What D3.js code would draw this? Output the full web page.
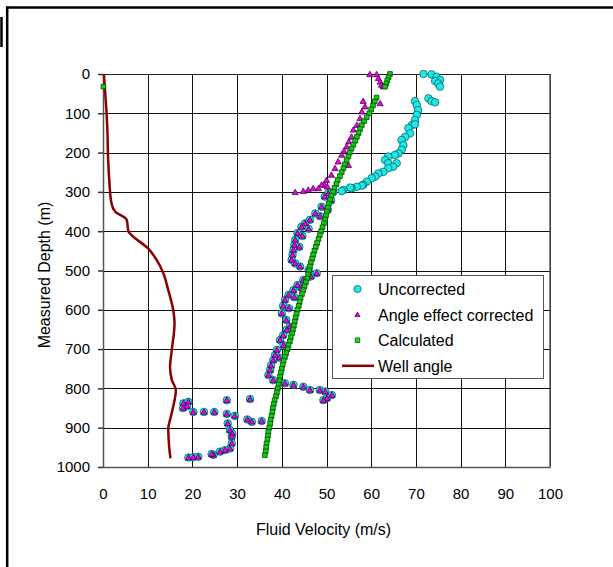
<!DOCTYPE html>
<html>
<head>
<meta charset="utf-8">
<script src="https://cdn.jsdelivr.net/npm/d3@7"></script>
<style>
  body { margin: 0; background: #fff; }
  text { font-family: "Liberation Sans", Arial, sans-serif; fill: #000; }
</style>
</head>
<body>
<script>
// x ticks and y ticks
var velTicks = [0, 10, 20, 30, 40, 50, 60, 70, 80, 90, 100];
var depthTicks = [0, 100, 200, 300, 400, 500, 600, 700, 800, 900, 1000];

var seriesNames = ["Uncorrected", "Angle effect corrected", "Calculated", "Well angle"];

// well angle [deg, depth]
var wellAngle = [[0.2,0],[0.5,50],[0.8,100],[1.0,150],[1.1,200],[1.4,270],[1.9,329],[2.7,350],[5.3,371],
  [5.7,401],[6.4,410],[10.1,444],[12.0,473],[13.5,507],[14.6,550],[15.7,600],[16.0,634],[15.4,702],
  [15.0,745],[15.4,779],[16.3,804],[15.7,847],[15.0,880],[14.6,902],[14.8,948],[15.1,978]];

// uncorrected, upper part only (below ~300 m it sits under the corrected points)
var uncorrectedTop = [[71.7,0],[73.5,1],[74.6,7],[75.4,15],[74.3,18],[75.0,24],[75.4,32],[72.8,62],[73.5,69],
  [74.3,72],[69.8,69],[70.2,79],[70.5,92],[70.2,104],[69.8,117],[69.1,130],[69.8,128],[68.3,138],[68.7,151],
  [67.6,160],[66.8,168],[67.2,181],[66.8,193],[66.1,202],[65.3,206],[63.8,210],[63.1,219],[63.8,227],
  [65.7,227],[64.9,236],[63.8,240],[62.7,249],[61.6,253],[60.9,261],[60.1,265],[59.0,274],[58.2,282],
  [57.9,284],[56.8,287],[55.6,291],[55.3,289],[53.8,295],[53.4,298],[51.5,301]];

var angleCorrected = [[59.7,1],[61.2,1],[61.6,11],[62.0,20],[62.3,28],[62.7,32],
  [58.2,69],[62.0,75],[58.6,83],[57.9,96],[57.5,113],[56.8,130],[56.0,142],[55.6,160],[55.0,172],[54.5,185],
  [53.9,196],[53.4,206],[52.6,223],[54.9,232],[51.9,240],[51.1,257],[50.0,270],[49.5,282],[48.9,282],
  [48.2,291],[47.0,291],[45.9,295],[44.8,298],[43.0,301],[50.2,287],
  [50.4,304],[49.6,312],[51.0,322],[48.9,338],[50.3,345],[47.5,355],[48.6,362],[46.3,371],[45.2,380],
  [44.4,389],[46.0,394],[43.5,405],[44.6,412],[43.0,422],[42.8,435],[43.9,440],[42.6,448],[42.4,460],
  [42.2,473],[43.0,482],[44.1,490],[46.0,498],[47.8,507],[46.5,515],[44.8,524],[43.5,537],[44.4,544],
  [42.6,550],[41.5,562],[42.8,568],[40.7,575],[40.3,590],[41.6,596],[40.0,609],[41.0,626],[41.8,643],
  [41.1,651],[40.3,665],[39.6,677],[40.4,690],[38.9,702],[38.5,715],[39.5,722],[38.1,728],[37.6,742],
  [37.4,753],[37.0,766],[38.1,779],[40.7,787],[42.6,791],[44.8,796],[46.3,804],[48.5,804],[49.7,808],
  [51.2,817],[50.1,825],[49.3,830],
  [18.0,838],[19.1,834],[17.9,850],[18.8,845],[20.2,860],[22.6,860],[24.9,860],[27.7,830],[32.9,827],
  [27.7,865],[29.5,870],[32.3,879],[33.3,885],[35.5,883],[27.9,889],[28.4,906],[28.9,915],[28.8,923],
  [28.8,940],[28.4,953],[27.3,957],[26.2,961],[24.7,969],[24.3,967],[19.1,976],[20.2,975],[21.3,974]];

var uncorrected = uncorrectedTop.concat(angleCorrected.filter(function(d) { return d[1] >= 303; }));

// calculated: top stub, odd point at zero, then main curve every 10 m from 60 m
var calcTop = [[64.2,0],[63.9,8],[63.6,16],[63.4,24],[63.1,32],[0.1,32]];
var calcDepth = d3.range(60, 980, 10);
var calcVel = [61.2,60.8,60.4,60.0,59.6,59.0,58.4,57.9,57.5,57.2,56.8,56.4,56.0,55.6,55.2,54.9,54.5,54.1,
  53.8,53.4,53.0,52.5,52.2,51.8,51.5,51.1,50.8,50.5,50.3,50.1,49.9,49.7,49.4,49.1,48.8,48.5,48.2,47.9,47.6,
  47.3,47.0,46.8,46.5,46.3,46.1,45.9,45.7,45.4,45.1,44.8,44.5,44.2,44.0,43.8,43.5,43.3,43.1,42.9,42.7,42.5,
  42.3,42.0,41.8,41.5,41.3,41.0,40.7,40.4,40.2,40.0,39.8,39.6,39.5,39.3,39.1,38.9,38.7,38.4,38.2,38.0,37.9,
  37.7,37.5,37.4,37.2,37.0,36.9,36.8,36.6,36.5,36.4,36.2];
var calculated = calcTop.concat(calcDepth.map(function(d, i) { return [calcVel[i], d]; }));

var margin = {top: 74, left: 103},
    width = 447,
    height = 393;

var svg = d3.select("body").append("svg")
    .attr("width", 613)
    .attr("height", 567);

// outer frame (runs off the right and bottom edges)
svg.append("line")
    .attr("x1", 6).attr("x2", 613)
    .attr("y1", 7.5).attr("y2", 7.5)
    .attr("stroke", "#000")
    .attr("stroke-width", 2.5);
svg.append("line")
    .attr("x1", 7.2).attr("x2", 7.2)
    .attr("y1", 6.5).attr("y2", 567)
    .attr("stroke", "#000")
    .attr("stroke-width", 2.5);

svg.append("line")
    .attr("x1", 1.5).attr("x2", 1.5)
    .attr("y1", 17).attr("y2", 47)
    .attr("stroke", "#000")
    .attr("stroke-width", 2.5);

var x = d3.scaleLinear().domain([0, 100]).range([0, width]);
var y = d3.scaleLinear().domain([0, 1000]).range([0, height]);

var g = svg.append("g")
    .attr("transform", "translate(" + margin.left + "," + margin.top + ")");

// grid
g.append("g")
    .attr("class", "grid")
    .call(d3.axisLeft(y).tickValues(depthTicks).tickSize(-width).tickFormat(""))
    .call(function(a) { a.select(".domain").remove(); });
g.append("g")
    .attr("class", "grid")
    .attr("transform", "translate(0," + height + ")")
    .call(d3.axisBottom(x).tickValues(velTicks).tickSize(height).tickFormat(""))
    .call(function(a) { a.select(".domain").remove(); });
g.selectAll(".grid line")
    .attr("stroke", "#111")
    .attr("shape-rendering", "crispEdges");
// the gridlines run upward from the bottom axis
g.selectAll(".grid").filter(function(d, i) { return i == 1; }).selectAll("line")
    .attr("y2", -height);

// frame top and right
g.append("line").attr("x1", 0).attr("x2", width).attr("y1", 0).attr("y2", 0)
    .attr("stroke", "#222").attr("shape-rendering", "crispEdges");
g.append("line").attr("x1", width).attr("x2", width).attr("y1", 0).attr("y2", height)
    .attr("stroke", "#555").attr("stroke-width", 1.5);

// axes
var yAxis = g.append("g")
    .call(d3.axisLeft(y).tickValues(depthTicks).tickFormat(d3.format("d"))
      .tickSize(5).tickSizeOuter(0).tickPadding(8));
var xAxis = g.append("g")
    .attr("transform", "translate(0," + height + ")")
    .call(d3.axisBottom(x).tickValues(velTicks).tickFormat(d3.format("d"))
      .tickSize(0).tickSizeOuter(0).tickPadding(21));
g.selectAll(".domain").attr("stroke", "#555").attr("stroke-width", 1.5);
yAxis.selectAll(".tick line").attr("stroke", "#333").attr("stroke-width", 1.5);
g.selectAll(".tick text")
    .style("font-size", "15px")
    .style("font-family", "'Liberation Sans', Arial, sans-serif")
    .attr("fill", "#000");

svg.append("text")
    .attr("x", margin.left + width / 2 - 3)
    .attr("y", 535)
    .style("text-anchor", "middle")
    .style("font-size", "16px")
    .text("Fluid Velocity (m/s)");

svg.append("text")
    .attr("transform", "rotate(-90)")
    .attr("x", -275)
    .attr("y", 50)
    .style("text-anchor", "middle")
    .style("font-size", "16px")
    .text("Measured Depth (m)");

// well angle line
var angleLine = d3.line()
    .x(function(d) { return x(d[0]); })
    .y(function(d) { return y(d[1]); })
    .curve(d3.curveMonotoneY);

g.append("path")
    .datum(wellAngle)
    .attr("fill", "none")
    .attr("stroke", "#8b0000")
    .attr("stroke-width", 2.5)
    .attr("d", angleLine);

// uncorrected
g.append("g").selectAll("circle")
    .data(uncorrected)
    .enter().append("circle")
    .attr("cx", function(d) { return x(d[0]); })
    .attr("cy", function(d) { return y(d[1]); })
    .attr("r", 3.8)
    .attr("fill", "#1ee8e8")
    .attr("stroke", "#055")
    .attr("stroke-width", 0.7);

var tri = d3.symbol().type(d3.symbolTriangle).size(17);
g.append("g").selectAll("path")
    .data(angleCorrected)
    .enter().append("path")
    .attr("transform", function(d) { return "translate(" + x(d[0]) + "," + (y(d[1]) + 0.5) + ")"; })
    .attr("d", tri)
    .attr("fill", "#ee00ee")
    .attr("stroke", "#303")
    .attr("stroke-width", 0.7);

var sq = d3.symbol().type(d3.symbolSquare).size(22);
g.append("g").selectAll("path")
    .data(calculated)
    .enter().append("path")
    .attr("transform", function(d) { return "translate(" + x(d[0]) + "," + y(d[1]) + ")"; })
    .attr("d", sq)
    .attr("fill", "#11cc11")
    .attr("stroke", "#064a06")
    .attr("stroke-width", 0.8);

// legend
var legend = svg.append("g");
legend.append("rect")
    .attr("x", 332.5).attr("y", 275.5)
    .attr("width", 211).attr("height", 103)
    .attr("fill", "#fff")
    .attr("stroke", "#555")
    .attr("stroke-width", 1);

var items = legend.selectAll(".item")
    .data(seriesNames)
    .enter().append("g")
    .attr("class", "item")
    .attr("transform", function(d, i) { return "translate(0," + (289 + i * 25.6) + ")"; });

items.append("text")
    .attr("x", 378)
    .attr("y", 6)
    .style("font-size", "16px")
    .text(function(d) { return d; });

items.filter(function(d, i) { return i == 0; }).append("circle")
    .attr("cx", 357.5).attr("cy", 0).attr("r", 3.6)
    .attr("fill", "#1ee8e8").attr("stroke", "#055").attr("stroke-width", 0.7);
items.filter(function(d, i) { return i == 1; }).append("path")
    .attr("transform", "translate(357.5,0.5)")
    .attr("d", d3.symbol().type(d3.symbolTriangle).size(12))
    .attr("fill", "#ee00ee").attr("stroke", "#303").attr("stroke-width", 0.7);
items.filter(function(d, i) { return i == 2; }).append("path")
    .attr("transform", "translate(357.5,0)")
    .attr("d", d3.symbol().type(d3.symbolSquare).size(20))
    .attr("fill", "#11ee11").attr("stroke", "#064a06").attr("stroke-width", 0.8);
items.filter(function(d, i) { return i == 3; }).append("line")
    .attr("x1", 342).attr("x2", 374).attr("y1", 0).attr("y2", 0)
    .attr("stroke", "#8b0000").attr("stroke-width", 2.5);
</script>
</body>
</html>
